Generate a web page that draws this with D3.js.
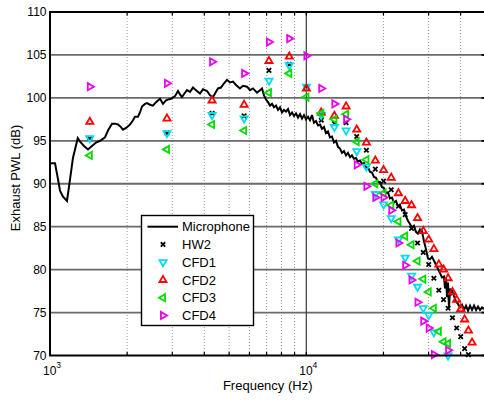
<!DOCTYPE html>
<html>
<head>
<meta charset="utf-8">
<script src="https://cdn.jsdelivr.net/npm/d3@7"></script>
<style>
  body { margin: 0; background: #fff; }
  svg { display: block; font-family: "Liberation Sans", Arial, Helvetica, sans-serif; }
</style>
</head>
<body>
<svg id="chart" width="484" height="401"></svg>
<script>
// Microphone spectrum (Hz, dB)
const micFreq = [1000,1018,1046,1075,1094,1124,1165,1197,1229,1283,1310,1357,1407,1458,1512,1567,1639,1684,1745,1793,1842,1892,1927,1980,2052,2108,2146,2204,2244,2286,2348,2390,2456,2522,2592,2687,2760,2836,2886,2966,3074,3158,3215,3273,3363,3423,3517,3613,3711,3848,3954,4099,4210,4325,4443,4524,4647,4775,4905,5039,5176,5318,5511,5662,5870,6030,6194,6421,6597,
  6717,6839,6963,7089,7218,7349,7482,7617,7756,7896,8040,8185,8334,8485,8639,8796,8955,9118,9283,9452,9623,9796,9973,10154,10338,10525,10716,10910,11108,11309,11514,11723,11935,12152,12372,12596,12825,13057,13294,13535,13780,14030,14284,14543,14807,15075,15348,15627,15910,16198,16492,16791,17095,17405,17720,18041,18368,18701,19040,19385,19736,20094,20458,20829,21206,21591,21982,22380,22786,23199,23619,24047,24483,24926,25378,25838,26306,26783,27268,27762,28265,28778,29299,29830,30371,
  30930,31780,32360,33240,33840,34450,34770,35090,35400,35720,36040,36370,36700,37030,37690,38380,39080,39790,40510,41250,42000,42760,43530,44320,45130,45950,46780,47630,48500,49370];
const micLevel = [92.3,92.4,92.4,90.5,89.2,88.5,88.0,90.5,93.0,95.3,94.9,94.4,94.0,94.4,94.8,95.0,95.4,96.2,97.0,97.0,96.9,96.6,96.3,96.5,96.9,97.4,97.8,97.8,98.3,99.0,99.3,99.4,99.2,99.1,99.5,99.9,99.3,99.7,99.8,99.9,100.2,100.8,100.4,100.1,100.6,100.9,100.7,101.2,100.9,100.5,101.0,100.8,100.3,100.1,100.7,101.1,101.2,101.7,102.1,101.8,101.9,101.5,101.1,101.4,101.3,100.9,101.1,100.6,100.9,
  101.1,100.3,99.8,99.5,99.1,99.3,98.9,99.1,98.6,98.9,98.3,98.6,98.4,98.7,98.0,98.3,97.9,98.2,97.7,98.1,97.6,98.0,97.5,97.8,97.4,98.0,97.1,97.3,96.8,96.9,96.4,96.6,95.9,96.1,95.4,95.5,94.8,95.0,94.3,94.1,93.6,93.8,93.3,93.6,93.1,93.3,92.9,93.0,92.6,92.7,92.3,92.4,91.9,91.9,91.4,91.3,90.8,90.7,90.2,90.2,89.6,89.5,88.9,89.0,88.3,88.4,87.8,88.0,87.4,87.5,86.9,87.0,86.2,85.7,85.3,84.9,85.1,84.4,84.2,84.7,84.5,83.3,82.4,81.3,81.2,
  81.5,80.8,80.3,79.6,79.1,79.2,77.8,79.0,76.8,78.5,75.5,77.8,77.0,77.6,76.9,76.3,76.0,75.6,75.9,75.3,75.8,75.2,75.8,75.3,75.8,75.3,75.7,75.3,75.6,75.4];

// Tonal harmonics (Hz) at which the discrete estimates are given
const harmonicFreq = [1430,2860,4290,5720,7150,8580,10010,11440,12870,14300,15730,17160,18590,20020,21450,22880,24310,25740,27170,28600,30030,31460,32890,34320,35750,37180,38610,40040,41470,42900,44330];

const hw2  = [95.3,95.9,98.2,97.9,103.2,103.9,101.2,97.4,97.0,97.1,95.5,93.9,91.7,90.3,89.3,87.4,86.4,84.8,83.1,82.0,80.6,79.0,77.6,76.5,75.5,74.4,73.2,72.2,70.8,70.1,null];
const cfd1 = [95.3,95.9,98.0,97.6,102.0,103.8,101.3,98.0,96.6,96.2,93.8,92.0,88.8,87.6,86.0,83.5,81.4,79.3,78.0,75.5,74.7,72.7,null,null,70.0,null,null,null,null,null,null];
const cfd2 = [97.2,97.6,99.7,99.2,104.3,104.8,101.1,98.3,97.9,99.0,96.3,94.8,92.7,91.6,90.7,88.9,88.0,87.5,86.0,84.5,83.5,82.4,80.6,80.0,79.0,77.4,76.5,75.4,74.2,72.9,71.5];
const cfd3 = [93.3,94.0,96.9,96.2,100.6,102.85,100.1,98.2,97.5,98.1,94.9,92.8,90.0,88.9,87.5,85.6,83.9,82.9,81.0,78.9,77.4,75.5,72.8,71.6,71.4,null,null,null,null,null,null];
const cfd4 = [101.3,101.7,104.2,102.85,106.5,106.9,104.9,101.1,99.3,97.5,92.2,89.7,88.4,88.4,86.9,83.1,80.5,78.8,76.2,74.0,73.2,70.1,null,null,70.6,null,null,null,null,null,null];

const yTicks = [70,75,80,85,90,95,100,105,110];
const xMajorTicks = [1000,10000];
const xMinorTicks = [2000,3000,4000,5000,6000,7000,8000,9000,20000,30000,40000];

const seriesNames = ["HW2","CFD1","CFD2","CFD3","CFD4"];
const seriesValues = [hw2, cfd1, cfd2, cfd3, cfd4];
const seriesColors = ["#000000","#00dcf2","#ff0000","#00dd00","#ee00ee"];
const seriesShapes = ["cross","down","up","left","right"];

const svg = d3.select("#chart");
const L = 50, T = 12, B = 355.5;
const x = d3.scaleLog().domain([1000, 50000]).range([L, L + 256.3 * Math.log10(50)]);
const y = d3.scaleLinear().domain([70, 110]).range([B, T]);
const R = x.range()[1];

// minor grid (dotted) on the log axis
svg.append("g").selectAll("line").data(xMinorTicks).join("line")
  .attr("x1", d => x(d)).attr("x2", d => x(d))
  .attr("y1", T).attr("y2", B)
  .attr("stroke", "#9a9a9a").attr("stroke-width", 1)
  .attr("stroke-dasharray", "1,2");

// major grid
svg.append("g").selectAll("line").data(yTicks.slice(1, -1)).join("line")
  .attr("x1", L).attr("x2", R)
  .attr("y1", d => y(d)).attr("y2", d => y(d))
  .attr("stroke", "#6a6a6a").attr("stroke-width", 1.8);
svg.append("line")
  .attr("x1", x(10000)).attr("x2", x(10000)).attr("y1", T).attr("y2", B)
  .attr("stroke", "#3a3a3a").attr("stroke-width", 1.2);

// tick marks on the bottom and top edges
const allX = xMinorTicks.concat(xMajorTicks);
svg.append("g").selectAll("line").data(allX).join("line")
  .attr("x1", d => x(d)).attr("x2", d => x(d))
  .attr("y1", B).attr("y2", B - 3.5)
  .attr("stroke", "#000").attr("stroke-width", 1.2);
svg.append("g").selectAll("line").data(allX).join("line")
  .attr("x1", d => x(d)).attr("x2", d => x(d))
  .attr("y1", T).attr("y2", T + 3.5)
  .attr("stroke", "#000").attr("stroke-width", 1.2);
// right-edge ticks
svg.append("g").selectAll("line").data(yTicks).join("line")
  .attr("x1", R - 4).attr("x2", R)
  .attr("y1", d => y(d)).attr("y2", d => y(d))
  .attr("stroke", "#000").attr("stroke-width", 1.8);

// y axis labels
svg.append("g").selectAll("text").data(yTicks).join("text")
  .attr("x", 46.5).attr("y", d => y(d)).attr("dy", "0.36em")
  .attr("text-anchor", "end").attr("font-size", 12).attr("fill", "#000")
  .text(d => d);

// x axis labels as powers of ten
xMajorTicks.forEach(v => {
  const t = svg.append("text")
    .attr("x", x(v) + 2).attr("y", 375)
    .attr("text-anchor", "middle").attr("font-size", 12).attr("fill", "#000");
  t.append("tspan").text("10");
  t.append("tspan").attr("font-size", 8.5).attr("dy", -7).text(Math.round(Math.log10(v)));
});

// axis titles
svg.append("text")
  .attr("x", (L + R) / 2).attr("y", 390)
  .attr("text-anchor", "middle").attr("font-size", 13).attr("fill", "#000")
  .text("Frequency (Hz)");
svg.append("text")
  .attr("transform", "translate(20,178) rotate(-90)")
  .attr("text-anchor", "middle").attr("font-size", 13).attr("fill", "#000")
  .text("Exhaust PWL (dB)");

// clip for the measured curve
svg.append("defs").append("clipPath").attr("id", "plotClip")
  .append("rect").attr("x", L).attr("y", T).attr("width", R - L).attr("height", B - T);

// microphone curve
const micPts = micFreq.map((f, i) => [f, micLevel[i]]);
svg.append("path")
  .attr("clip-path", "url(#plotClip)")
  .attr("d", d3.line().x(d => x(d[0])).y(d => y(d[1]))(micPts))
  .attr("fill", "none").attr("stroke", "#000").attr("stroke-width", 2)
  .attr("stroke-linejoin", "miter").attr("stroke-miterlimit", 3);

// marker shapes
function markerPath(shape) {
  const r = 4.1, h = r * 0.866;
  switch (shape) {
    case "up":    return `M0,${-r}L${h},${r/2}L${-h},${r/2}Z`;
    case "down":  return `M0,${r}L${h},${-r/2}L${-h},${-r/2}Z`;
    case "left":  return `M${-r},0L${r/2},${-h}L${r/2},${h}Z`;
    case "right": return `M${r},0L${-r/2},${-h}L${-r/2},${h}Z`;
    default:      return "M-2.2,-2.2L2.2,2.2M-2.2,2.2L2.2,-2.2";
  }
}

seriesValues.forEach((vals, k) => {
  const pts = harmonicFreq.map((f, i) => [f, vals[i]]).filter(p => p[1] != null);
  svg.append("g").selectAll("path").data(pts).join("path")
    .attr("transform", d => `translate(${x(d[0])},${y(d[1])})`)
    .attr("d", markerPath(seriesShapes[k]))
    .attr("fill", "none").attr("stroke", seriesColors[k])
    .attr("stroke-width", 1.8);
});

// axes box
svg.append("path")
  .attr("d", `M${R},${T}H${L}V${B}H${R}`)
  .attr("fill", "none").attr("stroke", "#000").attr("stroke-width", 2);

// legend
const lg = svg.append("g");
lg.append("rect").attr("x", 141.5).attr("y", 215.5).attr("width", 112).attr("height", 110)
  .attr("fill", "#fff").attr("stroke", "#000").attr("stroke-width", 1.4);
const rowY = d3.range(6).map(i => 226.7 + i * 17.75);
lg.append("line").attr("x1", 147.5).attr("x2", 178).attr("y1", rowY[0]).attr("y2", rowY[0])
  .attr("stroke", "#000").attr("stroke-width", 2);
lg.append("text").attr("x", 182).attr("y", rowY[0]).attr("dy", "0.36em")
  .attr("font-size", 13).text("Microphone");
seriesNames.forEach((name, k) => {
  lg.append("path")
    .attr("transform", `translate(163,${rowY[k + 1]})`)
    .attr("d", markerPath(seriesShapes[k]))
    .attr("fill", "none").attr("stroke", seriesColors[k]).attr("stroke-width", 1.8);
  lg.append("text").attr("x", 182).attr("y", rowY[k + 1]).attr("dy", "0.36em")
    .attr("font-size", 13).text(name);
});
</script>
</body>
</html>
